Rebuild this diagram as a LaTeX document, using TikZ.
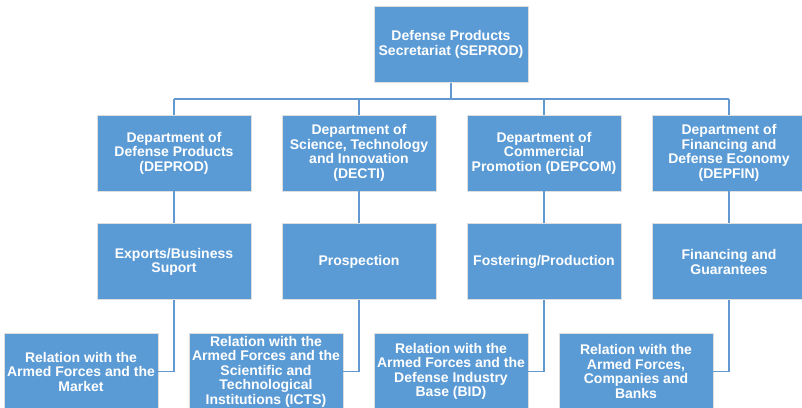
\documentclass[tikz,border=0pt]{standalone}
\usepackage{fontspec}
\setmainfont{Liberation Sans}
\usetikzlibrary{positioning}

\definecolor{unitblue}{RGB}{91,155,213}
\definecolor{linkblue}{RGB}{98,153,208}

\tikzset{
  unit/.style={rectangle, fill=unitblue, draw=black!13, line width=0.8pt,
    minimum width=154pt, minimum height=76pt, inner sep=0pt, align=center,
    text=white, font=\bfseries\fontsize{14}{14.5}\selectfont},
  link/.style={draw=linkblue, line width=1.6pt},
}

\begin{document}
\begin{tikzpicture}[x=1pt,y=-1pt]
        \useasboundingbox (0,0) rectangle (802,407);
        \clip (0,0) rectangle (802,407);

        % secretariat on top
        \node[unit] (seprod) at (451,44.5) {Defense Products\\Secretariat (SEPROD)};

        % the four departments
        \node[unit] (deprod) at (174,153) {Department of\\Defense Products\\(DEPROD)};
        \node[unit] (decti)  at (359,153) {Department of\\Science, Technology\\and Innovation\\(DECTI)};
        \node[unit] (depcom) at (544,153) {Department of\\Commercial\\Promotion (DEPCOM)};
        \node[unit] (depfin) at (729,153) {Department of\\Financing and\\Defense Economy\\(DEPFIN)};

        % what each department does
        \node[unit, below=32pt of deprod] (exports)   {Exports/Business\\Suport};
        \node[unit, below=32pt of decti]  (prospect)  {Prospection};
        \node[unit, below=32pt of depcom] (fostering) {Fostering/Production};
        \node[unit, below=32pt of depfin] (financing) {Financing and\\Guarantees};

        % relations, shifted to the left of their column
        \node[unit, below=33pt of exports, xshift=-93pt]   (relmarket) {Relation with the\\Armed Forces and the\\Market};
        \node[unit, below=33pt of prospect, xshift=-93pt]  (relicts)   {Relation with the\\Armed Forces and the\\Scientific and\\Technological\\Institutions (ICTS)};
        \node[unit, below=33pt of fostering, xshift=-93pt] (relbid)    {Relation with the\\Armed Forces and the\\Defense Industry\\Base (BID)};
        \node[unit, below=33pt of financing, xshift=-93pt] (relbanks)  {Relation with the\\Armed Forces,\\Companies and\\Banks};

        % bus under the secretariat
        \coordinate (bus) at (451,99);
        \draw[link] (seprod) -- (bus);
        \draw[link] (bus -| deprod) -- (bus -| depfin);
        \foreach \d in {deprod,decti,depcom,depfin}
          \draw[link] (bus -| \d) -- (\d.north);

        \draw[link] (deprod) -- (exports);
        \draw[link] (decti)  -- (prospect);
        \draw[link] (depcom) -- (fostering);
        \draw[link] (depfin) -- (financing);

        \draw[link] (exports.south)   |- (relmarket.east);
        \draw[link] (prospect.south)  |- (relicts.east);
        \draw[link] (fostering.south) |- (relbid.east);
        \draw[link] (financing.south) |- (relbanks.east);
      \end{tikzpicture}
\end{document}
